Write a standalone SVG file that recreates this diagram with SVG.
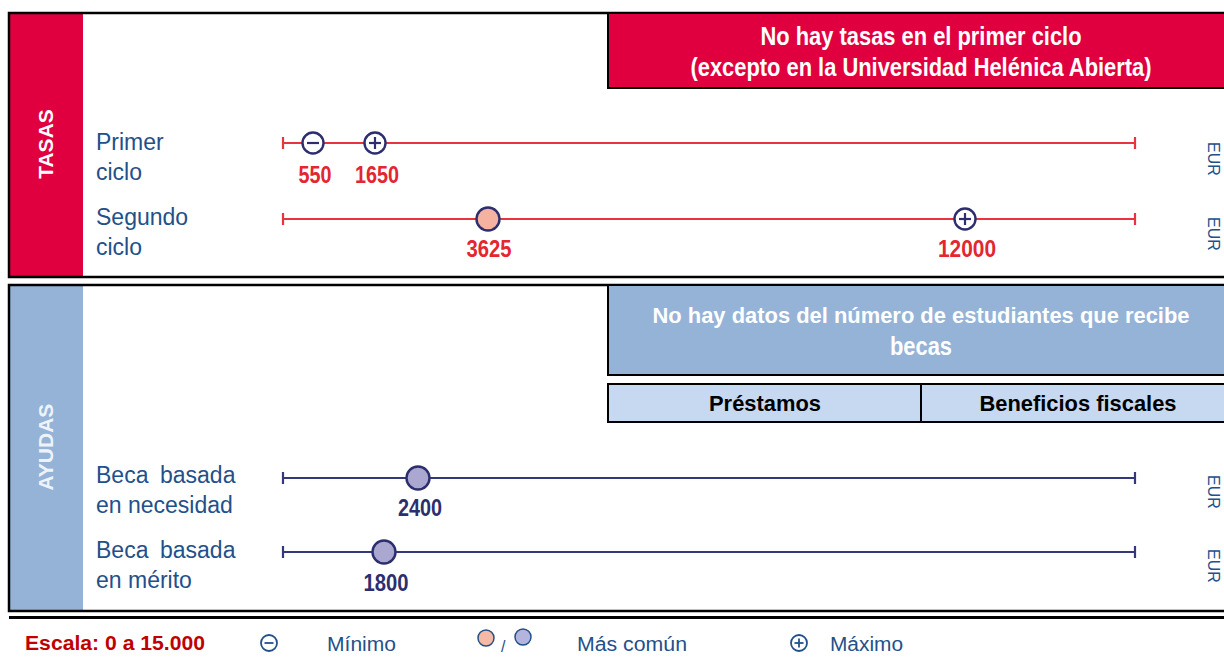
<svg xmlns="http://www.w3.org/2000/svg" xmlns:xlink="http://www.w3.org/1999/xlink" width="1224" height="660" viewBox="0 0 1224 660">
<style>
.edge{fill:none;stroke:#000;stroke-width:2.5}
.bedge{fill:none;stroke:#000;stroke-width:2}
.lbl{font-family:"Liberation Sans",Arial,sans-serif;font-size:23px;fill:#23508a}
.eur{font-family:"Liberation Sans",Arial,sans-serif;font-size:16px;fill:#23508a}
.sec{font-family:"Liberation Sans",Arial,sans-serif;font-size:21px;font-weight:bold;text-anchor:middle}
.note{font-family:"Liberation Sans Narrow","Liberation Sans",Arial,sans-serif;font-size:25px;font-weight:bold;fill:#fff;text-anchor:middle}
.note2{font-family:"Liberation Sans Narrow","Liberation Sans",Arial,sans-serif;font-size:22px;font-weight:bold;fill:#fff;text-anchor:middle}
.cell{font-family:"Liberation Sans Narrow","Liberation Sans",Arial,sans-serif;font-size:22px;font-weight:bold;fill:#000;text-anchor:middle}
.vr{font-family:"Liberation Sans Narrow","Liberation Sans",Arial,sans-serif;font-size:24px;font-weight:bold;fill:#e3262f;text-anchor:middle}
.vb{font-family:"Liberation Sans Narrow","Liberation Sans",Arial,sans-serif;font-size:24px;font-weight:bold;fill:#2c2e6e;text-anchor:middle}
.red{stroke:#e8343e;stroke-width:2.2;fill:none}
.navy{stroke:#34377a;stroke-width:2.2;fill:none}
.leg{font-family:"Liberation Sans",Arial,sans-serif;font-size:20px;fill:#23508a}
</style>
<defs>
<g id="minus"><circle r="10.5" fill="#fff" stroke="#2c2e6e" stroke-width="2.4"/><line x1="-6" y1="0" x2="6" y2="0" stroke="#2c2e6e" stroke-width="2.2"/></g>
<g id="plus"><circle r="10.5" fill="#fff" stroke="#2c2e6e" stroke-width="2.4"/><line x1="-6" y1="0" x2="6" y2="0" stroke="#2c2e6e" stroke-width="2.2"/><line x1="0" y1="-6" x2="0" y2="6" stroke="#2c2e6e" stroke-width="2.2"/></g>
<circle id="comR" r="11.5" fill="#f5b2a0" stroke="#2c2e6e" stroke-width="2.4"/>
<circle id="comB" r="11.5" fill="#aaa7d0" stroke="#2c2e6e" stroke-width="2.4"/>
</defs>

<g id="tasas-panel">
<rect x="9" y="13" width="74" height="264" fill="#e1003f"/>
<path class="edge" d="M1224,13 H9 V277 H1224"/>
<text class="sec" fill="#fff" transform="translate(53,144) rotate(-90)">TASAS</text>
</g>

<g id="tasas-note">
<rect x="608" y="13" width="616" height="75" fill="#e1003f"/>
<path class="bedge" d="M1224,13 H608 V88 H1224"/>
<text class="note" x="921" y="45" textLength="321" lengthAdjust="spacingAndGlyphs">No hay tasas en el primer ciclo</text>
<text class="note" x="921" y="76" textLength="461" lengthAdjust="spacingAndGlyphs">(excepto en la Universidad Helénica Abierta)</text>
</g>

<g id="ayudas-panel">
<rect x="9" y="285" width="74" height="326" fill="#95b3d7"/>
<path class="edge" d="M1224,285 H9 V611 H1224"/>
<text class="sec" fill="#eef3fa" transform="translate(53,447) rotate(-90)">AYUDAS</text>
</g>

<g id="ayudas-note">
<rect x="608" y="285" width="616" height="90" fill="#95b3d7"/>
<path class="bedge" d="M1224,285 H608 V375 H1224"/>
<text class="note2" x="921" y="323" textLength="537" lengthAdjust="spacingAndGlyphs">No hay datos del número de estudiantes que recibe</text>
<text class="note" x="921" y="355" textLength="62" lengthAdjust="spacingAndGlyphs">becas</text>
</g>

<g id="ayudas-table">
<rect x="608" y="384" width="616" height="38" fill="#c6d9f1"/>
<path class="bedge" d="M1224,384 H608 V422 H1224 M921,384 V422"/>
<text class="cell" x="765" y="411" textLength="112" lengthAdjust="spacingAndGlyphs">Préstamos</text>
<text class="cell" x="1078" y="411" textLength="197" lengthAdjust="spacingAndGlyphs">Beneficios fiscales</text>
</g>

<g id="connectors">
<path class="red" d="M283,143 H1135 M283,137 V149 M1135,137 V149"/>
<path class="red" d="M283,219 H1135 M283,213 V225 M1135,213 V225"/>
<path class="navy" d="M283,478 H1135 M283,472 V484 M1135,472 V484"/>
<path class="navy" d="M283,552 H1135 M283,546 V558 M1135,546 V558"/>
</g>

<g id="row-primer">
<text class="lbl" x="96" y="150">Primer</text>
<text class="lbl" x="96" y="180">ciclo</text>
<use xlink:href="#minus" x="313" y="143"/>
<use xlink:href="#plus" x="375" y="143"/>
<text class="vr" x="315" y="183" textLength="33" lengthAdjust="spacingAndGlyphs">550</text>
<text class="vr" x="377" y="183" textLength="44" lengthAdjust="spacingAndGlyphs">1650</text>
<text class="eur" transform="translate(1208,142) rotate(90)">EUR</text>
</g>

<g id="row-segundo">
<text class="lbl" x="96" y="225">Segundo</text>
<text class="lbl" x="96" y="255">ciclo</text>
<use xlink:href="#comR" x="488" y="219"/>
<use xlink:href="#plus" x="965" y="219"/>
<text class="vr" x="489" y="257" textLength="45" lengthAdjust="spacingAndGlyphs">3625</text>
<text class="vr" x="967" y="257" textLength="58" lengthAdjust="spacingAndGlyphs">12000</text>
<text class="eur" transform="translate(1208,217) rotate(90)">EUR</text>
</g>

<g id="row-necesidad">
<text class="lbl" x="96" y="483"><tspan x="96">Beca</tspan><tspan x="160">basada</tspan></text>
<text class="lbl" x="96" y="513">en necesidad</text>
<use xlink:href="#comB" x="418" y="478"/>
<text class="vb" x="420" y="516" textLength="44" lengthAdjust="spacingAndGlyphs">2400</text>
<text class="eur" transform="translate(1208,475) rotate(90)">EUR</text>
</g>

<g id="row-merito">
<text class="lbl" x="96" y="558"><tspan x="96">Beca</tspan><tspan x="160">basada</tspan></text>
<text class="lbl" x="96" y="588">en mérito</text>
<use xlink:href="#comB" x="384" y="552"/>
<text class="vb" x="386" y="591" textLength="45" lengthAdjust="spacingAndGlyphs">1800</text>
<text class="eur" transform="translate(1208,549) rotate(90)">EUR</text>
</g>

<g id="legend">
<line x1="9" y1="617.5" x2="1224" y2="617.5" stroke="#000" stroke-width="3"/>
<text x="25" y="650" font-family="Liberation Sans, Arial, sans-serif" font-size="20" font-weight="bold" fill="#c00000" textLength="180" lengthAdjust="spacingAndGlyphs">Escala: 0 a 15.000</text>
<g transform="translate(269,643)"><circle r="8" fill="#fff" stroke="#23508a" stroke-width="1.8"/><line x1="-4.5" y1="0" x2="4.5" y2="0" stroke="#23508a" stroke-width="1.8"/></g>
<text class="leg" x="327" y="651" textLength="69" lengthAdjust="spacingAndGlyphs">Mínimo</text>
<circle cx="486" cy="638" r="8" fill="#f5b9a5" stroke="#23508a" stroke-width="1.5"/>
<text class="leg" x="501" y="652" style="font-size:16px">/</text>
<circle cx="523" cy="637" r="8" fill="#b3b5de" stroke="#23508a" stroke-width="1.5"/>
<text class="leg" x="577" y="651" textLength="110" lengthAdjust="spacingAndGlyphs">Más común</text>
<g transform="translate(799,643)"><circle r="8" fill="#fff" stroke="#23508a" stroke-width="1.8"/><line x1="-4.5" y1="0" x2="4.5" y2="0" stroke="#23508a" stroke-width="1.8"/><line x1="0" y1="-4.5" x2="0" y2="4.5" stroke="#23508a" stroke-width="1.8"/></g>
<text class="leg" x="830" y="651" textLength="73" lengthAdjust="spacingAndGlyphs">Máximo</text>
</g>
</svg>
